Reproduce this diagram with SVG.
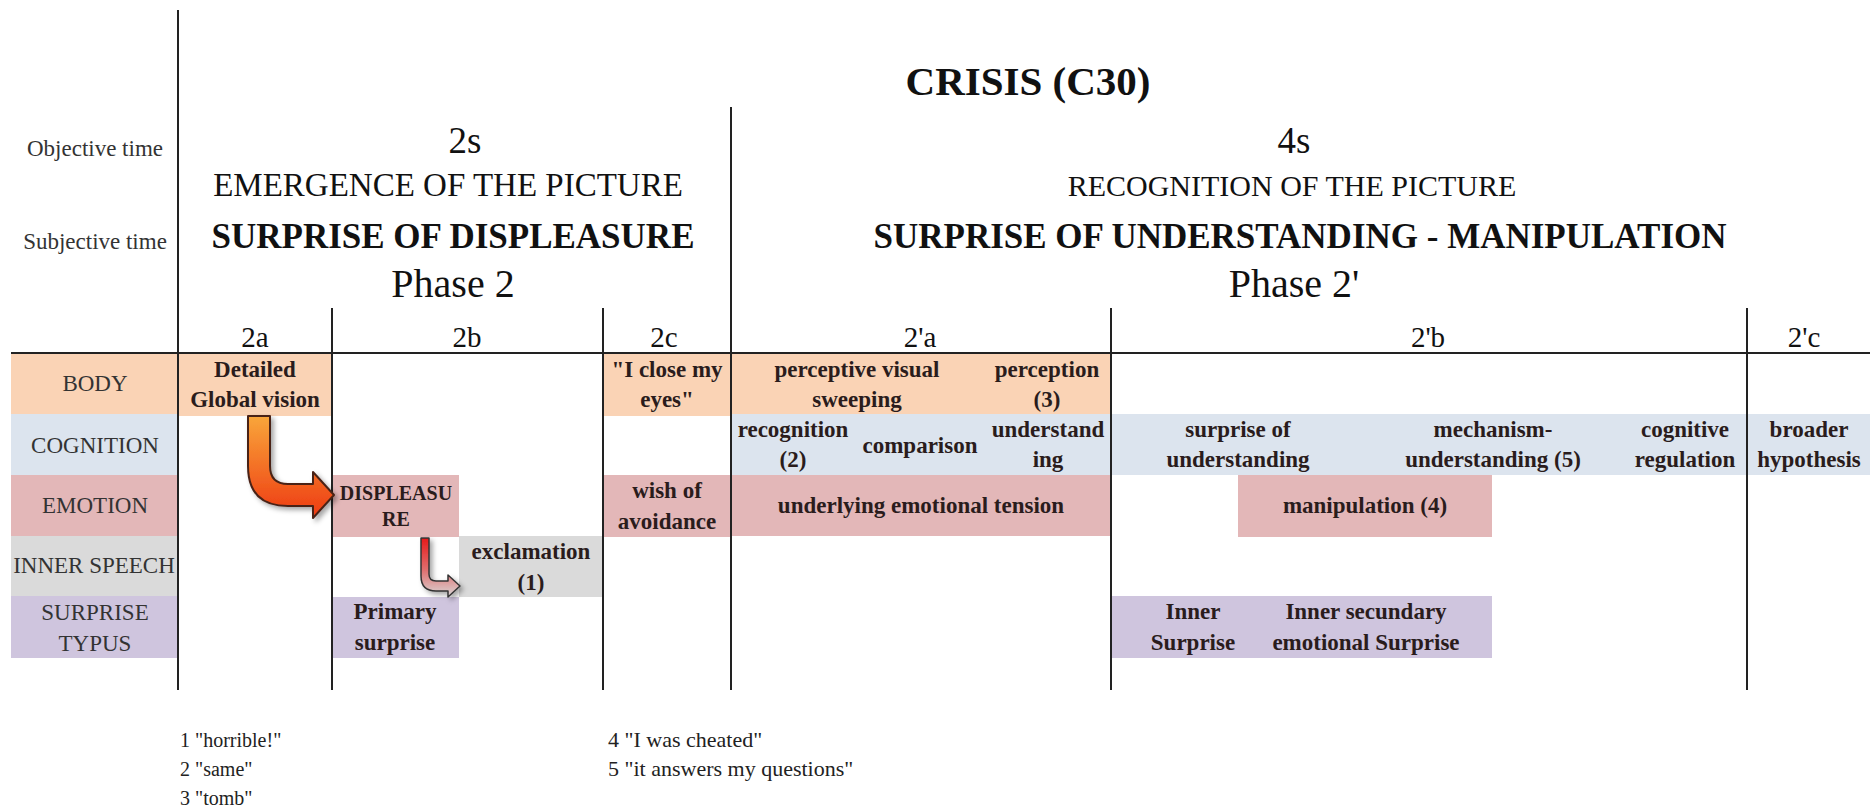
<svg xmlns="http://www.w3.org/2000/svg" width="1870" height="812" viewBox="0 0 1870 812">
<defs>
<style>
text{font-family:"Liberation Serif","Times New Roman",serif;}
.hd{fill:#111;text-anchor:middle;}
.lab{fill:#333;font-size:23px;text-anchor:middle;}
.cell{fill:#2a1c1c;font-size:23px;font-weight:bold;text-anchor:middle;}
.sm{font-size:20px;}
.col{fill:#111;font-size:29px;text-anchor:middle;}
.fn{fill:#222;font-size:20px;}
.fn2{fill:#222;font-size:22px;}
.grid{stroke:#222;stroke-width:2;fill:none;}
.body{fill:#FAD3B5;}
.cog{fill:#DCE4EE;}
.emo{fill:#E3B7B8;}
.inn{fill:#DADADA;}
.sur{fill:#CFC5DE;}
</style>
<linearGradient id="gBig" x1="0" y1="0" x2="0" y2="1">
<stop offset="0" stop-color="#F9A63A"/>
<stop offset="1" stop-color="#EE3A12"/>
</linearGradient>
<linearGradient id="gSmall" x1="0" y1="0" x2="0" y2="1">
<stop offset="0" stop-color="#E81A1A"/>
<stop offset="0.55" stop-color="#E07070"/>
<stop offset="1" stop-color="#D8D8D8"/>
</linearGradient>
<filter id="shadow" x="-20%" y="-20%" width="150%" height="150%">
<feDropShadow dx="3" dy="3" stdDeviation="2.5" flood-color="#000" flood-opacity="0.35"/>
</filter>
</defs>
<rect width="1870" height="812" fill="#ffffff"/>

<g id="header">
<text class="hd" x="1028" y="95" font-size="41" font-weight="bold">CRISIS (C30)</text>
<text class="lab" x="95" y="156">Objective time</text>
<text class="lab" x="95" y="249">Subjective time</text>
<text class="hd" x="465" y="153" font-size="37">2s</text>
<text class="hd" x="1294" y="153" font-size="37">4s</text>
<text class="hd" x="448" y="196" font-size="33">EMERGENCE OF THE PICTURE</text>
<text class="hd" x="1292" y="196" font-size="30">RECOGNITION OF THE PICTURE</text>
<text class="hd" x="453" y="248" font-size="35" font-weight="bold">SURPRISE OF DISPLEASURE</text>
<text class="hd" x="1300" y="248" font-size="35" font-weight="bold">SURPRISE OF UNDERSTANDING - MANIPULATION</text>
<text class="hd" x="453" y="297" font-size="40">Phase 2</text>
<text class="hd" x="1294" y="297" font-size="40">Phase 2'</text>
<text class="col" x="255" y="347">2a</text>
<text class="col" x="467" y="347">2b</text>
<text class="col" x="664" y="347">2c</text>
<text class="col" x="920" y="347">2'a</text>
<text class="col" x="1428" y="347">2'b</text>
<text class="col" x="1804" y="347">2'c</text>
</g>

<g id="row-labels">
<rect class="body" x="11" y="353" width="166" height="61"/>
<rect class="cog" x="11" y="414" width="166" height="61"/>
<rect class="emo" x="11" y="475" width="166" height="61"/>
<rect class="inn" x="11" y="536" width="166" height="60"/>
<rect class="sur" x="11" y="596" width="166" height="62"/>
<text class="lab" x="95" y="391">BODY</text>
<text class="lab" x="95" y="453">COGNITION</text>
<text class="lab" x="95" y="513">EMOTION</text>
<text class="lab" x="94" y="573">INNER SPEECH</text>
<text class="lab" x="95" y="620">SURPRISE</text>
<text class="lab" x="95" y="651">TYPUS</text>
</g>

<g id="bands">
<rect class="body" x="731" y="353" width="380" height="61"/>
<rect class="cog" x="731" y="414" width="1139" height="61"/>
<rect class="emo" x="731" y="475" width="380" height="61"/>
</g>

<g id="n-detailed">
<rect class="body" x="178" y="353" width="154" height="63"/>
<text class="cell" x="255" y="377">Detailed</text>
<text class="cell" x="255" y="407">Global vision</text>
</g>
<g id="n-close-eyes">
<rect class="body" x="603" y="353" width="128" height="63"/>
<text class="cell" x="667" y="377">"I close my</text>
<text class="cell" x="667" y="407">eyes"</text>
</g>
<g id="n-perceptive">
<text class="cell" x="857" y="377">perceptive visual</text>
<text class="cell" x="857" y="407">sweeping</text>
</g>
<g id="n-perception">
<text class="cell" x="1047" y="377">perception</text>
<text class="cell" x="1047" y="407">(3)</text>
</g>
<g id="n-recognition">
<text class="cell" x="793" y="437">recognition</text>
<text class="cell" x="793" y="467">(2)</text>
</g>
<g id="n-comparison">
<text class="cell" x="920" y="453">comparison</text>
</g>
<g id="n-understanding">
<text class="cell" x="1048" y="437">understand</text>
<text class="cell" x="1048" y="467">ing</text>
</g>
<g id="n-surprise-understanding">
<text class="cell" x="1238" y="437">surprise of</text>
<text class="cell" x="1238" y="467">understanding</text>
</g>
<g id="n-mechanism">
<text class="cell" x="1493" y="437">mechanism-</text>
<text class="cell" x="1493" y="467">understanding (5)</text>
</g>
<g id="n-cognitive-regulation">
<text class="cell" x="1685" y="437">cognitive</text>
<text class="cell" x="1685" y="467">regulation</text>
</g>
<g id="n-broader">
<text class="cell" x="1809" y="437">broader</text>
<text class="cell" x="1809" y="467">hypothesis</text>
</g>
<g id="n-displeasure">
<rect class="emo" x="333" y="475" width="126" height="62"/>
<text class="cell sm" x="396" y="500">DISPLEASU</text>
<text class="cell sm" x="396" y="526">RE</text>
</g>
<g id="n-wish">
<rect class="emo" x="603" y="475" width="128" height="62"/>
<text class="cell" x="667" y="498">wish of</text>
<text class="cell" x="667" y="529">avoidance</text>
</g>
<g id="n-tension">
<text class="cell" x="921" y="513">underlying emotional tension</text>
</g>
<g id="n-manipulation">
<rect class="emo" x="1238" y="475" width="254" height="62"/>
<text class="cell" x="1365" y="513">manipulation (4)</text>
</g>
<g id="n-exclamation">
<rect class="inn" x="459" y="536" width="144" height="61"/>
<text class="cell" x="531" y="559">exclamation</text>
<text class="cell" x="531" y="590">(1)</text>
</g>
<g id="n-primary">
<rect class="sur" x="333" y="597" width="126" height="61"/>
<text class="cell" x="395" y="619">Primary</text>
<text class="cell" x="395" y="650">surprise</text>
</g>
<g id="n-inner-surprise">
<rect class="sur" x="1111" y="596" width="381" height="62"/>
<text class="cell" x="1193" y="619">Inner</text>
<text class="cell" x="1193" y="650">Surprise</text>
<text class="cell" x="1366" y="619">Inner secundary</text>
<text class="cell" x="1366" y="650">emotional Surprise</text>
</g>

<g id="grid">
<line class="grid" x1="178" y1="10" x2="178" y2="690"/>
<line class="grid" x1="731" y1="107" x2="731" y2="690"/>
<line class="grid" x1="332" y1="308" x2="332" y2="690"/>
<line class="grid" x1="603" y1="308" x2="603" y2="690"/>
<line class="grid" x1="1111" y1="308" x2="1111" y2="690"/>
<line class="grid" x1="1747" y1="308" x2="1747" y2="690"/>
<line class="grid" x1="11" y1="353" x2="1870" y2="353"/>
</g>

<g id="connectors">
<path d="M248,416 L270,416 L270,466 Q270,484 288,484 L313,484 L313,472 L334,495 L313,518 L313,506 L288,506 Q248,506 248,466 Z" fill="url(#gBig)" stroke="#4a2418" stroke-width="2" stroke-linejoin="round" filter="url(#shadow)"/>
<path d="M421,538 L429,538 L429,574 Q429,581 436,581 L448,581 L448,575 L460,586 L448,597 L448,591 L436,591 Q421,591 421,576 Z" fill="url(#gSmall)" stroke="#333" stroke-width="1.5" stroke-linejoin="round" filter="url(#shadow)"/>
</g>

<g id="footnotes">
<text class="fn" x="180" y="747">1 "horrible!"</text>
<text class="fn" x="180" y="776">2 "same"</text>
<text class="fn" x="180" y="805">3 "tomb"</text>
<text class="fn2" x="608" y="747">4 "I was cheated"</text>
<text class="fn2" x="608" y="776">5 "it answers my questions"</text>
</g>
</svg>
